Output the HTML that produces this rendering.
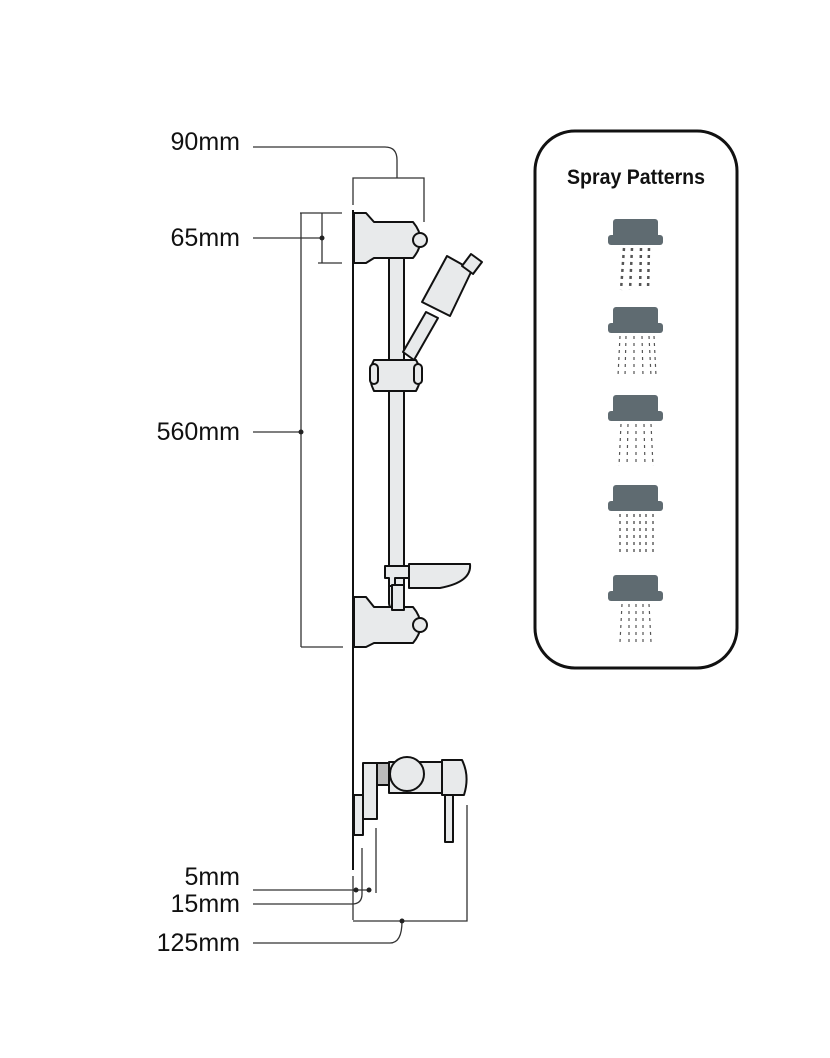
<!DOCTYPE html>
<html><head><meta charset="utf-8"><style>
html,body{margin:0;padding:0;background:#fff;}
svg{display:block;}
text{font-family:"Liberation Sans",sans-serif;}
</style></head><body>
<svg width="830" height="1058" viewBox="0 0 830 1058" xmlns="http://www.w3.org/2000/svg">
<g font-size="25" fill="#111" text-anchor="end">
<text x="240" y="150">90mm</text>
<text x="240" y="246">65mm</text>
<text x="240" y="440">560mm</text>
<text x="240" y="885">5mm</text>
<text x="240" y="912">15mm</text>
<text x="240" y="951">125mm</text>
</g>
<g stroke="#333" stroke-width="1.3" fill="none">
<path d="M253 147 H385 Q397 147 397 160 V178"/>
<path d="M353 205 V178 H424 V222"/>
<path d="M253 238 H322"/>
<path d="M322 213 V263"/>
<path d="M300 213 H342 M318 263 H342"/>
<path d="M301 213 V647 M253 432 H301 M301 647 H343"/>
<path d="M253 890 H370"/>
<path d="M253 904 H352 Q362 904 362 894 V848"/>
<path d="M376 893 V828"/>
<path d="M353 920 V876 M353 921 H467 V805"/>
<path d="M402 921 Q402 943 390 943 H253"/>
</g>
<g fill="#222">
<circle cx="322" cy="238" r="2.5"/><circle cx="301" cy="432" r="2.5"/>
<circle cx="356" cy="890" r="2.5"/><circle cx="369" cy="890" r="2.5"/>
<circle cx="402" cy="921" r="2.5"/>
</g>
<path d="M353 210 V870" stroke="#111" stroke-width="2"/>
<g stroke="#111" stroke-width="2" fill="#e8eaeb" stroke-linejoin="round">
<rect x="389" y="250" width="15" height="360" rx="7"/>
<path d="M403 352 L426 312 L438 318 L414 360 Z"/>
<path d="M422 302 L447 256 L472 270 L450 316 Z"/>
<path d="M462 266 L471 254 L482 262 L473 274 Z"/>
<path d="M354 213 H366 L374 222 H413 Q428 240 413 258 H374 L366 263 H354 Z"/>
<circle cx="420" cy="240" r="7"/>
<path d="M374 360 H416 Q425 375 416 391 H374 Q366 375 374 360 Z"/>
<rect x="370" y="364" width="8" height="20" rx="4"/>
<rect x="414" y="364" width="8" height="20" rx="4"/>
<path d="M385 566 H409 V578 H395 V586 H389 V578 H385 Z"/>
<path d="M409 564 H470 Q472 582 440 588 H409 Z"/>
<path d="M354 597 H366 L374 607 H413 Q428 625 413 643 H374 L366 647 H354 Z"/>
<circle cx="420" cy="625" r="7"/>
<rect x="392" y="585" width="12" height="25"/>
<rect x="354" y="795" width="9" height="40"/>
<rect x="363" y="763" width="14" height="56"/>
<rect x="377" y="763" width="12" height="22" fill="#bbb"/>
<rect x="389" y="762" width="64" height="31"/>
<circle cx="407" cy="774" r="17"/>
<path d="M442 760 H462 Q470 776 464 795 H442 Z"/>
<rect x="445" y="795" width="8" height="47"/>
</g>
<rect x="535" y="131" width="202" height="537" rx="40" fill="none" stroke="#111" stroke-width="3"/>
<text x="636" y="184" text-anchor="middle" font-size="21" font-weight="bold" fill="#111" textLength="138" lengthAdjust="spacingAndGlyphs">Spray Patterns</text>
<g fill="#5f6b71">
<g><rect x="613" y="219" width="45" height="20" rx="3"/><rect x="608" y="235" width="55" height="10" rx="3"/></g>
<g transform="translate(0,88)"><rect x="613" y="219" width="45" height="20" rx="3"/><rect x="608" y="235" width="55" height="10" rx="3"/></g>
<g transform="translate(0,176)"><rect x="613" y="219" width="45" height="20" rx="3"/><rect x="608" y="235" width="55" height="10" rx="3"/></g>
<g transform="translate(0,266)"><rect x="613" y="219" width="45" height="20" rx="3"/><rect x="608" y="235" width="55" height="10" rx="3"/></g>
<g transform="translate(0,356)"><rect x="613" y="219" width="45" height="20" rx="3"/><rect x="608" y="235" width="55" height="10" rx="3"/></g>
</g>
<g stroke="#555" fill="none" stroke-dasharray="3 4">
<path d="M624 248 L621 290 M632 248 L630 290 M641 248 L640 290 M649 248 L648 290" stroke-width="2.5"/>
<path d="M620 336 L618 376 M626 336 L625 376 M634 336 V376 M642 336 L643 376 M649 336 L651 376 M654 336 L656 376" stroke-width="1.2"/>
<path d="M621 424 L619 466 M628 424 L627 466 M636 424 V466 M644 424 L645 466 M651 424 L653 466" stroke-width="1.2"/>
<path d="M620 514 V556 M627 514 V556 M634 514 V556 M640 514 V556 M646 514 V556 M653 514 V556" stroke-width="1.4"/>
<path d="M622 604 L620 642 M629 604 V642 M636 604 V642 M643 604 V642 M649 604 L651 642" stroke-width="1.2"/>
</g>
</svg>
</body></html>
